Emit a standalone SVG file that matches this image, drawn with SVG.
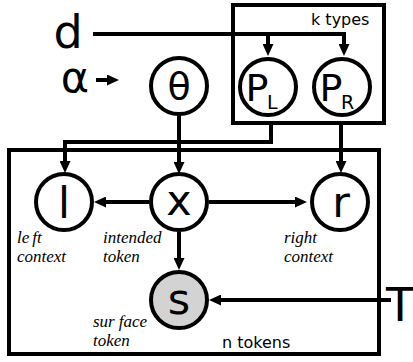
<svg xmlns="http://www.w3.org/2000/svg" width="413" height="362" viewBox="0 0 413 362">
  <style>
    .plate { fill: none; stroke: #000; stroke-width: 4; }
    .node circle { fill: #fff; stroke: #000; stroke-width: 4; }
    .node.obs circle { fill: #d3d3d3; }
    .sym { font-family: "DejaVu Sans", sans-serif; font-size: 43px; fill: #000; text-anchor: middle; }
    .big { font-size: 46px; }
    .mid { font-size: 38px; }
    .sub { font-family: "DejaVu Sans", sans-serif; font-size: 19px; fill: #000; }
    .plate-label { font-family: "DejaVu Sans", sans-serif; font-size: 16px; fill: #000; }
    .note { font-family: "Liberation Serif", serif; font-style: italic; font-size: 17px; fill: #000; }
    .edge { fill: none; stroke: #000; stroke-width: 4; stroke-linejoin: miter; marker-end: url(#head); }
    .plain { fill: none; stroke: #000; stroke-width: 4; }
  </style>
  <defs>
    <marker id="head" markerUnits="userSpaceOnUse" markerWidth="12" markerHeight="11" refX="5" refY="5.5" orient="auto">
      <path d="M0,0 L12,5.5 L0,11 z" fill="#000"/>
    </marker>
  </defs>

  <rect width="413" height="362" fill="#fff"/>

  <!-- plates -->
  <g id="plate-types">
    <rect class="plate" x="233" y="5" width="151" height="118"/>
    <text class="plate-label" x="311" y="25">k types</text>
  </g>
  <g id="plate-tokens">
    <rect class="plate" x="9" y="150" width="370" height="204"/>
    <text class="plate-label" x="222" y="348">n tokens</text>
  </g>

  <!-- connectors -->
  <g id="connectors">
    <path class="plain" d="M93,34 H268"/>
    <path class="edge" d="M268,32 V49"/>
    <path class="edge" d="M266,34 H344 V49"/>
    <path class="edge" d="M96,80 H112"/>
    <path class="edge" d="M179,115 V167"/>
    <path class="edge" d="M271,123 V142 H65 V166"/>
    <path class="edge" d="M341,123 V166"/>
    <path class="edge" d="M149,202 H101"/>
    <path class="edge" d="M209,202 H300"/>
    <path class="edge" d="M179,232 V263"/>
    <path class="edge" d="M391,300 H216"/>
  </g>

  <!-- free symbols -->
  <g id="d">
    <text class="sym big" x="68" y="48">d</text>
  </g>
  <g id="alpha">
    <text class="sym" x="75" y="92">α</text>
  </g>
  <g id="T">
    <text class="sym big" x="400" y="321">T</text>
  </g>

  <!-- nodes -->
  <g id="theta" class="node">
    <circle cx="179" cy="86" r="28"/>
    <text class="sym mid" x="179" y="99">θ</text>
  </g>
  <g id="PL" class="node">
    <circle cx="268" cy="87" r="28"/>
    <text class="sym mid" x="257" y="101">P</text>
    <text class="sub" x="267" y="109">L</text>
  </g>
  <g id="PR" class="node">
    <circle cx="342" cy="87" r="28"/>
    <text class="sym mid" x="331" y="101">P</text>
    <text class="sub" x="341" y="109">R</text>
  </g>
  <g id="l" class="node">
    <circle cx="64" cy="202" r="28"/>
    <text class="sym" x="64" y="218">l</text>
    <text class="note" x="17" y="243">le<tspan dx="3">ft</tspan></text>
    <text class="note" x="17" y="262">context</text>
  </g>
  <g id="x" class="node">
    <circle cx="179" cy="202" r="28"/>
    <text class="sym" x="179" y="215">x</text>
    <text class="note" x="103" y="243">intended</text>
    <text class="note" x="103" y="262">token</text>
  </g>
  <g id="r" class="node">
    <circle cx="340" cy="202" r="28"/>
    <text class="sym" x="341" y="217">r</text>
    <text class="note" x="284" y="243">right</text>
    <text class="note" x="284" y="262">context</text>
  </g>
  <g id="s" class="node obs">
    <circle cx="179" cy="300" r="28"/>
    <text class="sym" x="179" y="314">s</text>
    <text class="note" x="93" y="327">sur<tspan dx="4">face</tspan></text>
    <text class="note" x="93" y="346">token</text>
  </g>
</svg>
